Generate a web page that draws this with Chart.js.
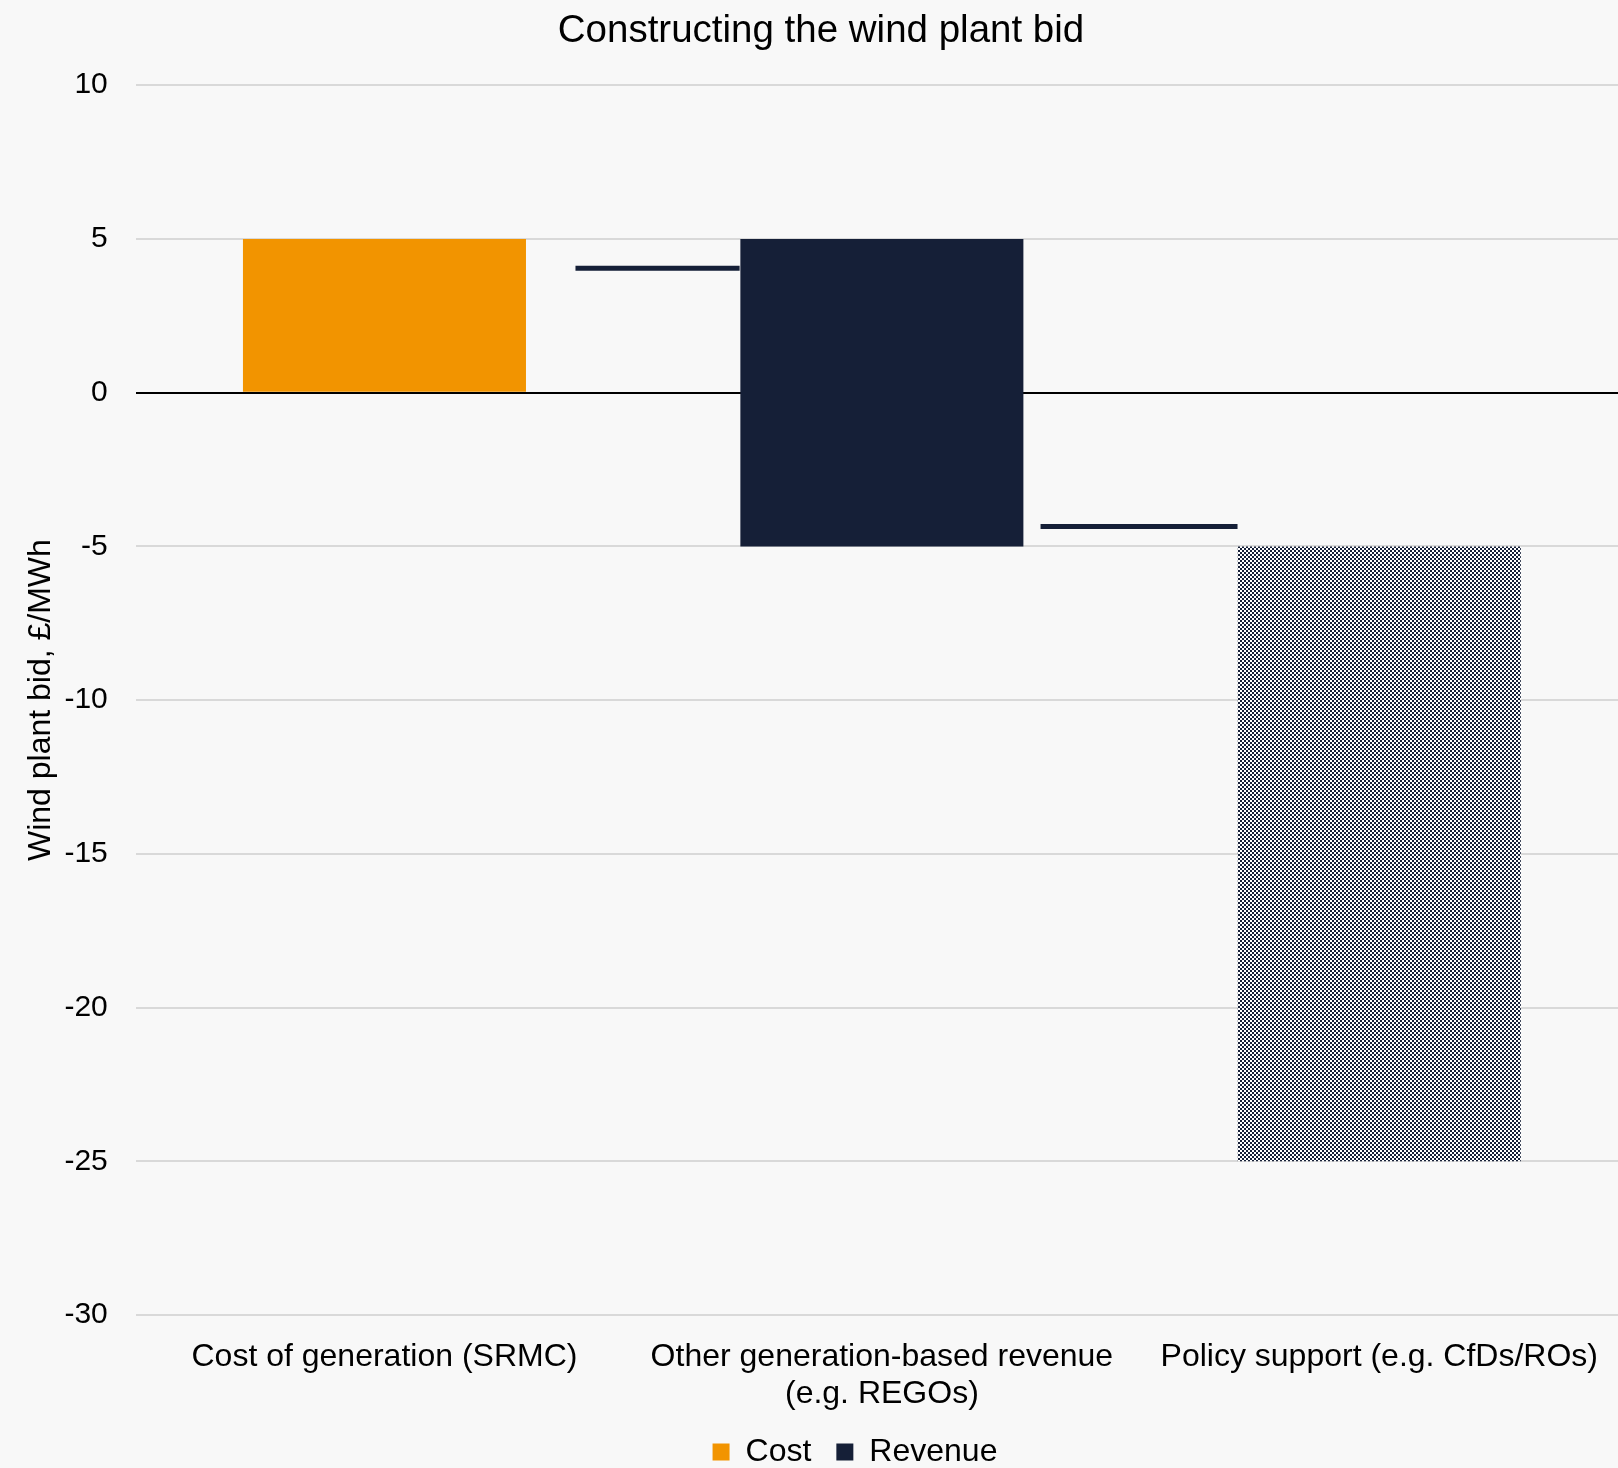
<!DOCTYPE html>
<html lang="en">
<head>
  <meta charset="UTF-8" />
  <title>Constructing the wind plant bid</title>
  <script src="https://cdn.jsdelivr.net/npm/chart.js"></script>
  <style>
    html, body { margin: 0; padding: 0; background: #f8f8f8; }
    #wrap { width: 1618px; height: 1468px; position: relative; }
  </style>
</head>
<body>
  <div id="wrap"><canvas id="chart"></canvas></div>

  <script>
    // categories and values (£/MWh)
    const categories = [
      "Cost of generation (SRMC)",
      ["Other generation-based revenue", "(e.g. REGOs)"],
      "Policy support (e.g. CfDs/ROs)"
    ];
    const costBars = [[0, 5], null, null];
    const revenueBars = [null, [-5, 5], null];
    const policyBars = [null, null, [-25, -5]];

    // connector lines between the steps (x in category index units)
    const connectorFrom = [0.384, 1.319];
    const connectorTo = [0.714, 1.715];
    const connectorLevel = [4.05, -4.35];

    const yTicks = [-30, -25, -20, -15, -10, -5, 0, 5, 10];

    const ORANGE = "#f29400";
    const NAVY = "#151f37";
    const FONT = "'Liberation Sans', Arial, sans-serif";

    const canvas = document.getElementById("chart");
    const ctx = canvas.getContext("2d");

    function checkerPattern() {
      const c = document.createElement("canvas");
      c.width = 4; c.height = 4;
      const g = c.getContext("2d");
      g.fillStyle = "#ffffff";
      g.fillRect(0, 0, 4, 4);
      g.fillStyle = NAVY;
      g.fillRect(0, 0, 2, 2);
      g.fillRect(2, 2, 2, 2);
      return ctx.createPattern(c, "repeat");
    }

    // plot area runs a little past the right edge, title/legend sit right of centre
    const nudge = {
      id: "nudge",
      afterLayout(chart) {
        ["x", "xLine"].forEach(id => {
          const s = chart.scales[id];
          s.right += 10;
          s.configure();
        });
        chart.titleBlock.left += 12;
        chart.titleBlock.right += 12;
        chart.legend.left += 46;
        chart.legend.right += 46;
      }
    };

    const connectorSets = connectorFrom.map((x0, i) => ({
      type: "line",
      label: "connector",
      xAxisID: "xLine",
      data: [{ x: x0, y: connectorLevel[i] }, { x: connectorTo[i], y: connectorLevel[i] }],
      borderColor: NAVY,
      borderWidth: 5,
      borderCapStyle: "butt",
      pointRadius: 0,
      order: 2
    }));

    new Chart(canvas, {
      type: "bar",
      data: {
        labels: categories,
        datasets: [
          { label: "Cost", data: costBars, backgroundColor: ORANGE, order: 1 },
          { label: "Revenue", data: revenueBars, backgroundColor: NAVY, order: 1 },
          { label: "Policy support", data: policyBars, backgroundColor: checkerPattern(), order: 1 },
          ...connectorSets
        ]
      },
      plugins: [nudge],
      options: {
        responsive: true,
        maintainAspectRatio: false,
        animation: false,
        grouped: false,
        barPercentage: 0.569,
        categoryPercentage: 1,
        layout: { padding: { top: 8, left: 0, right: 0, bottom: -10 } },
        plugins: {
          title: {
            display: true,
            text: "Constructing the wind plant bid",
            color: "#000",
            font: { family: FONT, size: 38.5, weight: "normal" },
            padding: { top: 0, bottom: 31 }
          },
          legend: {
            position: "bottom",
            labels: {
              color: "#000",
              font: { family: FONT, size: 32 },
              boxWidth: 17,
              boxHeight: 17,
              padding: 25,
              filter: item => item.text === "Cost" || item.text === "Revenue"
            }
          },
          tooltip: { enabled: false }
        },
        scales: {
          x: {
            grid: { display: false, drawTicks: false },
            border: { display: false },
            afterFit: axis => { axis.height = 96; },
            ticks: {
              color: "#000",
              font: { family: FONT, size: 32, lineHeight: 1.15 },
              padding: 24,
              maxRotation: 0,
              autoSkip: false
            }
          },
          xLine: {
            type: "linear",
            display: false,
            offset: false,
            grid: { offset: false },
            min: -0.5,
            max: 2.5
          },
          y: {
            min: -30,
            max: 10,
            afterBuildTicks: axis => { axis.ticks = yTicks.map(v => ({ value: v })); },
            grid: {
              drawTicks: false,
              lineWidth: 2,
              color: c => (c.tick && c.tick.value === 0 ? "#000000" : "#d9d9d9")
            },
            border: { display: false },
            ticks: {
              color: "#000",
              font: { family: FONT, size: 30 },
              padding: 28
            },
            title: {
              display: true,
              text: "Wind plant bid, £/MWh",
              color: "#000",
              font: { family: FONT, size: 32 },
              padding: { top: 22, bottom: -24 }
            }
          }
        }
      }
    });
  </script>
</body>
</html>
